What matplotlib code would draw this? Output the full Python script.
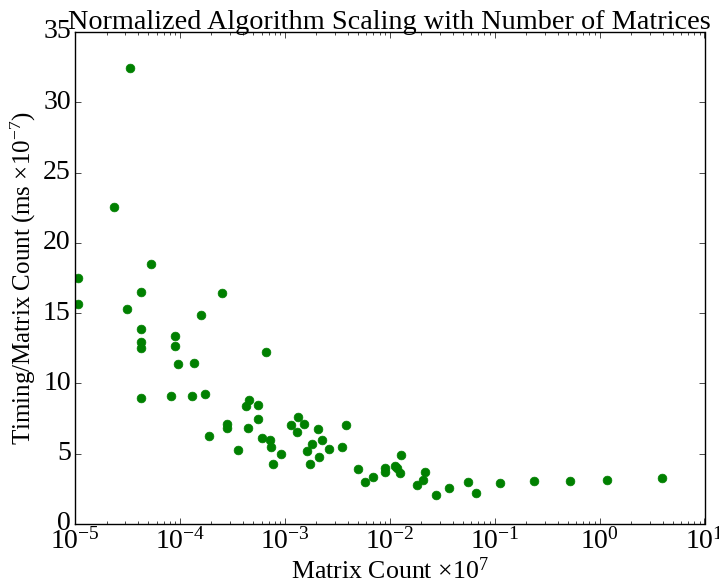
import matplotlib
matplotlib.use("Agg")
import matplotlib.pyplot as plt

plt.style.use("classic")
plt.rcParams["font.family"] = ["Liberation Serif", "DejaVu Serif"]
plt.rcParams["mathtext.fontset"] = "custom"
plt.rcParams["mathtext.rm"] = "Liberation Serif"
plt.rcParams["mathtext.it"] = "Liberation Serif:italic"
plt.rcParams["mathtext.bf"] = "Liberation Serif:bold"
plt.rcParams["figure.facecolor"] = "white"
plt.rcParams["savefig.facecolor"] = "white"

matrix_count = [
    3.32e-5, 2.34e-5, 5.30e-5, 1.07e-5, 1.07e-5, 4.26e-5, 3.13e-5, 2.54e-4,
    1.59e-4, 4.26e-5, 4.26e-5, 4.26e-5, 9.04e-5, 9.04e-5, 9.60e-5, 1.37e-4,
    6.58e-4, 4.26e-5, 8.22e-5, 1.29e-4, 1.73e-4, 1.89e-4, 2.79e-4, 2.83e-4,
    3.61e-4, 4.27e-4, 4.59e-4, 4.43e-4, 5.59e-4, 5.59e-4, 6.10e-4, 7.23e-4,
    7.34e-4, 7.67e-4, 9.14e-4, 1.14e-3, 1.345e-3, 1.30e-3, 1.535e-3, 1.62e-3,
    1.805e-3, 1.75e-3, 2.09e-3, 2.12e-3, 2.25e-3, 2.62e-3, 3.51e-3, 3.83e-3,
    4.99e-3, 5.85e-3, 6.98e-3, 9.08e-3, 9.08e-3, 1.13e-2, 1.16e-2, 1.25e-2,
    1.28e-2, 1.83e-2, 2.09e-2, 2.17e-2, 2.78e-2, 3.70e-2, 5.54e-2, 6.60e-2,
    0.1126, 0.2375, 0.5234, 1.179, 3.94,
]
timing_per_matrix = [
    32.44, 22.55, 18.53, 17.50, 15.65, 16.49, 15.29, 16.42,
    14.86, 13.85, 12.94, 12.51, 13.35, 12.65, 11.36, 11.45,
    12.24, 8.96, 9.13, 9.08, 9.24, 6.27, 7.12, 6.83,
    5.27, 8.38, 8.81, 6.83, 8.50, 7.45, 6.13, 5.96,
    5.48, 4.28, 4.96, 7.01, 7.62, 6.56, 7.12, 5.22,
    5.70, 4.24, 6.78, 4.78, 6.01, 5.36, 5.48, 7.06,
    3.88, 2.99, 3.35, 3.95, 3.73, 4.14, 3.99, 3.66,
    4.93, 2.77, 3.16, 3.73, 2.05, 2.53, 3.01, 2.17,
    2.94, 3.06, 3.06, 3.13, 3.25,
]

fig = plt.figure(figsize=(7.19, 5.81), dpi=100)
ax = fig.add_axes([75 / 719, 1 - 524 / 581, 629.5 / 719, 492 / 581])

ax.plot(matrix_count, timing_per_matrix, "o", color="g", markeredgecolor="g",
        markersize=6.3, markeredgewidth=0.5)

ax.set_xscale("log")
ax.set_xlim(1e-5, 1e1)
ax.set_ylim(0, 35)
ax.set_yticks([0, 5, 10, 15, 20, 25, 30, 35])
ax.tick_params(labelsize=20, pad=3)
ax.set_title("Normalized Algorithm Scaling with Number of Matrices", fontsize=20.3, pad=2)
ax.set_xlabel(r"Matrix Count $\times 10^7$", fontsize=18.6, labelpad=2)
ax.set_ylabel(r"Timing/Matrix Count (ms $\times 10^{-7}$)", fontsize=18, labelpad=4)

fig.savefig("out.png", dpi=100)
